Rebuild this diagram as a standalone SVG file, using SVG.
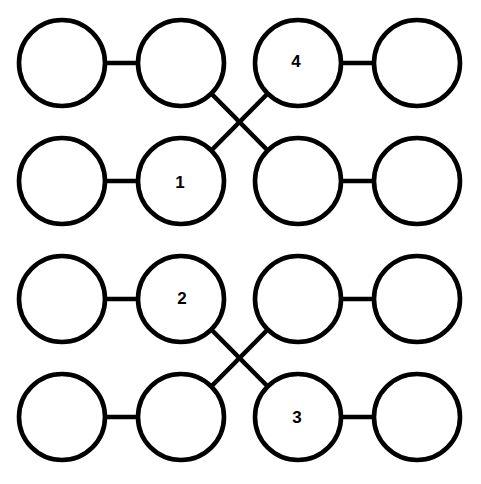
<svg xmlns="http://www.w3.org/2000/svg" width="481" height="484" viewBox="0 0 481 484">
<style>
.n{fill:#fff;stroke:#000;stroke-width:4.6}
.c{stroke:#000;stroke-width:4.6;fill:none}
.t{font-family:"Liberation Sans",Arial,sans-serif;font-weight:bold;font-size:17px;text-anchor:middle;fill:#000}
</style>
<rect width="481" height="484" fill="#fff"/>
<g id="connectors">
<line class="c" x1="62" y1="63" x2="181" y2="63"/>
<line class="c" x1="298" y1="63" x2="417" y2="63"/>
<line class="c" x1="62" y1="181" x2="181" y2="181"/>
<line class="c" x1="298" y1="181" x2="417" y2="181"/>
<line class="c" x1="181" y1="63" x2="298" y2="181"/>
<line class="c" x1="181" y1="181" x2="298" y2="63"/>
<line class="c" x1="62" y1="299" x2="181" y2="299"/>
<line class="c" x1="298" y1="299" x2="417" y2="299"/>
<line class="c" x1="62" y1="417" x2="181" y2="417"/>
<line class="c" x1="298" y1="417" x2="417" y2="417"/>
<line class="c" x1="181" y1="299" x2="298" y2="417"/>
<line class="c" x1="181" y1="417" x2="298" y2="299"/>
</g>
<g id="n11"><circle class="n" cx="62" cy="63" r="43"/></g>
<g id="n12"><circle class="n" cx="181" cy="63" r="43"/></g>
<g id="n13"><circle class="n" cx="298" cy="63" r="43"/><text class="t" x="296" y="67">4</text></g>
<g id="n14"><circle class="n" cx="417" cy="63" r="43"/></g>
<g id="n21"><circle class="n" cx="62" cy="181" r="43"/></g>
<g id="n22"><circle class="n" cx="181" cy="181" r="43"/><text class="t" x="180" y="187.5">1</text></g>
<g id="n23"><circle class="n" cx="298" cy="181" r="43"/></g>
<g id="n24"><circle class="n" cx="417" cy="181" r="43"/></g>
<g id="n31"><circle class="n" cx="62" cy="299" r="43"/></g>
<g id="n32"><circle class="n" cx="181" cy="299" r="43"/><text class="t" x="182" y="304">2</text></g>
<g id="n33"><circle class="n" cx="298" cy="299" r="43"/></g>
<g id="n34"><circle class="n" cx="417" cy="299" r="43"/></g>
<g id="n41"><circle class="n" cx="62" cy="417" r="43"/></g>
<g id="n42"><circle class="n" cx="181" cy="417" r="43"/></g>
<g id="n43"><circle class="n" cx="298" cy="417" r="43"/><text class="t" x="297" y="422.5">3</text></g>
<g id="n44"><circle class="n" cx="417" cy="417" r="43"/></g>
</svg>
